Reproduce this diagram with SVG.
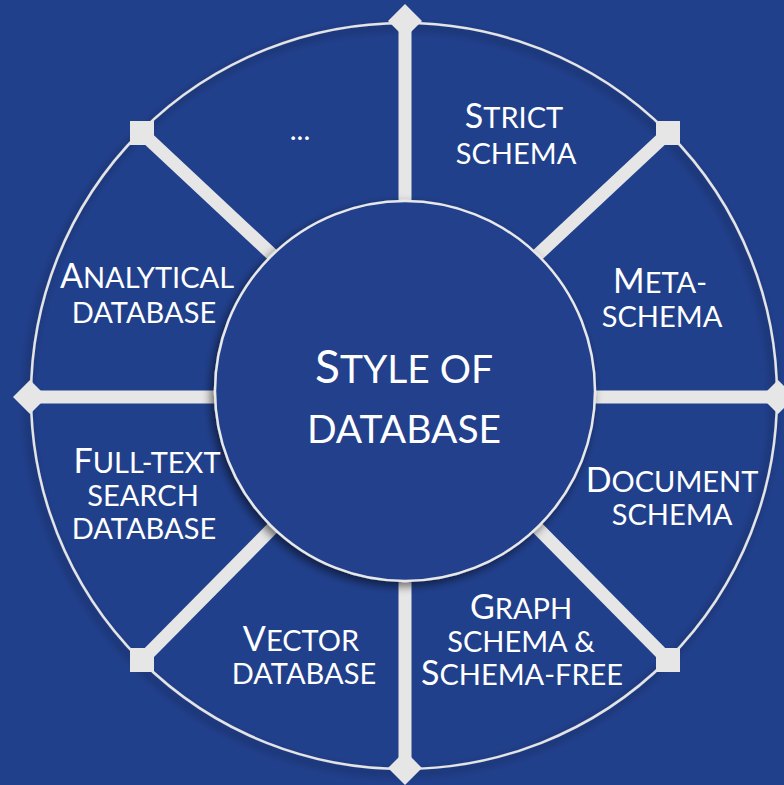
<svg xmlns="http://www.w3.org/2000/svg" width="784" height="785" viewBox="0 0 784 785">
<style>
  .bg { fill: #21408C; }
  .ring { fill: none; stroke: #E4E4E4; stroke-width: 2.5; }
  .spoke { stroke: #E6E6E6; stroke-width: 13; stroke-linecap: butt; }
  .cap { fill: #E6E6E6; }
  .hub { fill: #21408C; stroke: #E8E8E8; stroke-width: 2.5; }
  text { font-family: Lato, "Open Sans", "Liberation Sans", sans-serif; fill: #FFFFFF; text-anchor: middle; }
  .b { font-size: 34px; }
  .s { font-size: 29px; }
  .cb { font-size: 46px; }
  .cs { font-size: 39px; }
</style>
<defs>
  <filter id="shadow" x="-20%" y="-20%" width="140%" height="140%">
    <feGaussianBlur in="SourceAlpha" stdDeviation="5"/>
    <feOffset dx="-3" dy="4" result="o"/>
    <feComponentTransfer><feFuncA type="linear" slope="0.55"/></feComponentTransfer>
    <feMerge><feMergeNode/><feMergeNode in="SourceGraphic"/></feMerge>
  </filter>
</defs>
<rect class="bg" x="0" y="0" width="784" height="785"/>
<g id="outer-ring">
  <circle class="ring" cx="404" cy="396" r="373" filter="url(#shadow)"/>
</g>
<g id="connectors">
  <line class="spoke" x1="405" y1="250" x2="405" y2="21"/>
  <line class="spoke" x1="405" y1="540" x2="405" y2="768"/>
  <line class="spoke" x1="260" y1="397" x2="30" y2="397"/>
  <line class="spoke" x1="550" y1="397" x2="778" y2="397"/>
  <line class="spoke" x1="500" y1="290" x2="668" y2="133"/>
  <line class="spoke" x1="310" y1="290" x2="142" y2="133"/>
  <line class="spoke" x1="500" y1="490" x2="668" y2="660"/>
  <line class="spoke" x1="310" y1="490" x2="142" y2="660"/>
  <rect class="cap" x="393" y="9" width="24" height="24" transform="rotate(45 405 21)"/>
  <rect class="cap" x="393" y="756" width="24" height="24" transform="rotate(45 405 768)"/>
  <rect class="cap" x="18" y="385" width="24" height="24" transform="rotate(45 30 397)"/>
  <rect class="cap" x="766" y="385" width="24" height="24" transform="rotate(45 778 397)"/>
  <rect class="cap" x="656" y="121" width="24" height="24"/>
  <rect class="cap" x="130" y="121" width="24" height="24"/>
  <rect class="cap" x="656" y="648" width="24" height="24"/>
  <rect class="cap" x="130" y="648" width="24" height="24"/>
</g>
<g id="center">
  <circle class="hub" cx="405" cy="391" r="190" filter="url(#shadow)"/>
  <text x="404" y="383"><tspan class="cb">S</tspan><tspan class="cs">TYLE OF</tspan></text>
  <text x="404" y="443" class="cs">DATABASE</text>
</g>
<g id="seg-more">
  <text x="300" y="140" class="s">...</text>
</g>
<g id="seg-strict">
  <text x="514" y="128"><tspan class="b">S</tspan><tspan class="s">TRICT</tspan></text>
  <text x="516" y="164" class="s">SCHEMA</text>
</g>
<g id="seg-meta">
  <text x="660" y="293"><tspan class="b">M</tspan><tspan class="s">ETA-</tspan></text>
  <text x="662" y="327" class="s">SCHEMA</text>
</g>
<g id="seg-document">
  <text x="672" y="492"><tspan class="b">D</tspan><tspan class="s">OCUMENT</tspan></text>
  <text x="672" y="525" class="s">SCHEMA</text>
</g>
<g id="seg-graph">
  <text x="521" y="619"><tspan class="b">G</tspan><tspan class="s">RAPH</tspan></text>
  <text x="521" y="652" class="s">SCHEMA &amp;</text>
  <text x="522" y="685"><tspan class="b">S</tspan><tspan class="s">CHEMA-FREE</tspan></text>
</g>
<g id="seg-vector">
  <text x="301" y="651"><tspan class="b">V</tspan><tspan class="s">ECTOR</tspan></text>
  <text x="304" y="684" class="s">DATABASE</text>
</g>
<g id="seg-fulltext">
  <text x="147" y="473"><tspan class="b">F</tspan><tspan class="s">ULL-TEXT</tspan></text>
  <text x="143" y="506" class="s">SEARCH</text>
  <text x="144" y="539" class="s">DATABASE</text>
</g>
<g id="seg-analytical">
  <text x="147" y="288"><tspan class="b">A</tspan><tspan class="s">NALYTICAL</tspan></text>
  <text x="144" y="323" class="s">DATABASE</text>
</g>
</svg>
